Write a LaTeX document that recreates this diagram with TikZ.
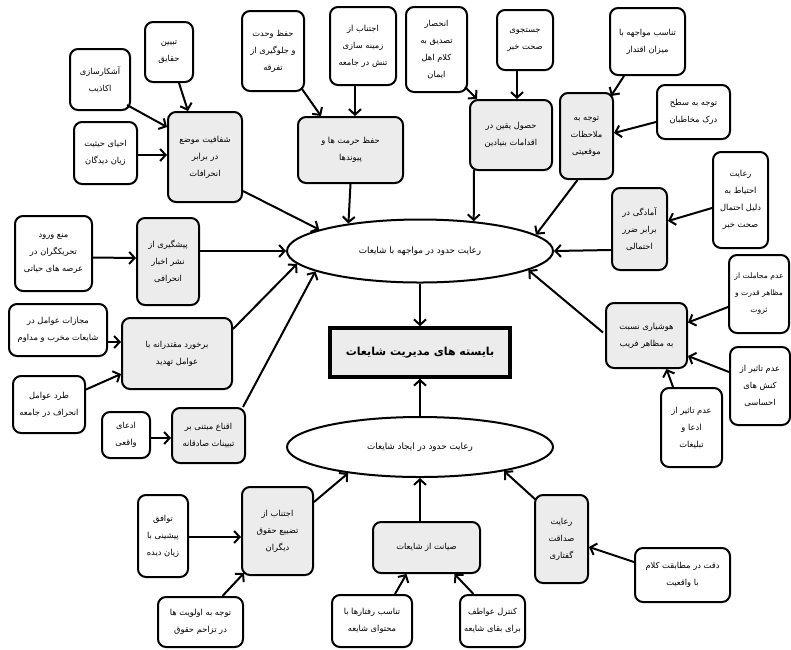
\documentclass[tikz,border=0pt]{standalone}
\usepackage{fontspec}
\newfontfamily\arabicfont[Script=Arabic]{DejaVu Sans}
\TeXXeTstate=1
\usetikzlibrary{shapes.geometric,arrows.meta,calc}
\newcommand\rl[1]{\beginR#1\endR}
\newcommand\bx[7]{\node[#6, minimum width={#4-#2}, minimum height={#5-#3}] (#1) at ({(#2+#4)/2},{(#3+#5)/2}) {#7};}
\definecolor{boxgray}{RGB}{236,236,236}
\tikzset{
  base/.style={draw=black, line width=2pt, rounded corners=8pt, align=center, inner sep=2pt,
    font=\arabicfont\fontsize{8.3}{17}\selectfont, text=black},
  leaf/.style={base, fill=white},
  mid/.style={base, fill=boxgray},
  narrow/.style={font=\arabicfont\fontsize{7.6}{17}\selectfont},
  oval/.style={ellipse, draw=black, line width=2pt, fill=white, inner sep=0pt,
    font=\arabicfont\fontsize{8.8}{14}\selectfont},
  core/.style={draw=black, line width=3.5pt, fill=boxgray, inner sep=2pt,
    font=\arabicfont\bfseries\fontsize{11}{14}\selectfont},
  arr/.style={line width=2pt, -{Straight Barb[length=5.5pt,width=12pt,line width=2pt]}}
}
\begin{document}
\begin{tikzpicture}[x=1pt,y=-1pt]
\useasboundingbox[fill=white] (0,0) rectangle (791,649);
% ---- top left
\bx{n1}{145}{22}{193}{82}{leaf}{\rl{تبیین}\\\rl{حقایق}}
\bx{n2}{70}{49}{130}{110}{leaf}{\rl{آشکارسازی}\\\rl{اکاذیب}}
\bx{n3}{74}{122}{137}{184}{leaf}{\rl{احیای حیثیت}\\\rl{زیان دیدگان}}
\bx{n4}{168}{112}{242}{202}{mid}{\rl{شفافیت موضع}\\\rl{در برابر}\\\rl{انحرافات}}
% ---- top middle
\bx{n5}{242}{11}{304}{91}{leaf}{\rl{حفظ وحدت}\\\rl{و جلوگیری از}\\\rl{تفرقه}}
\bx{n6}{330}{7}{396}{85}{leaf}{\rl{اجتناب از}\\\rl{زمینه سازی}\\\rl{تنش در جامعه}}
\bx{n7}{298}{117}{403}{183}{mid}{\rl{حفظ حرمت ها و}\\\rl{پیوندها}}
\bx{n8}{406}{7}{467}{92}{leaf}{\rl{انحصار}\\\rl{تصدیق به}\\\rl{کلام اهل}\\\rl{ایمان}}
\bx{n9}{497}{10}{553}{70}{leaf}{\rl{جستجوی}\\\rl{صحت خبر}}
\bx{n10}{470}{100}{552}{170}{mid}{\rl{حصول یقین در}\\\rl{اقدامات بنیادین}}
% ---- top right
\bx{n11}{610}{8}{685}{75}{leaf}{\rl{تناسب مواجهه با}\\\rl{میزان اقتدار}}
\bx{n12}{560}{93}{613}{179}{mid}{\rl{توجه به}\\\rl{ملاحظات}\\\rl{موقعیتی}}
\bx{n13}{657}{85}{730}{139}{leaf}{\rl{توجه به سطح}\\\rl{درک مخاطبان}}
\bx{n14}{713}{152}{768}{248}{leaf}{\rl{رعایت}\\\rl{احتیاط به}\\\rl{دلیل احتمال}\\\rl{صحت خبر}}
\bx{n15}{612}{188}{667}{270}{mid}{\rl{آمادگی در}\\\rl{برابر ضرر}\\\rl{احتمالی}}
% ---- left
\bx{n16}{15}{216}{92}{291}{leaf}{\rl{منع ورود}\\\rl{تحریکگران در}\\\rl{عرصه های حیاتی}}
\bx{n17}{137}{218}{199}{305}{mid}{\rl{پیشگیری از}\\\rl{نشر اخبار}\\\rl{انحرافی}}
\bx{n18}{9}{304}{107}{356}{leaf}{\rl{مجازات عوامل در}\\\rl{شایعات مخرب و مداوم}}
\bx{n19}{122}{318}{232}{389}{mid}{\rl{برخورد مقتدرانه با}\\\rl{عوامل تهدید}}
\bx{n20}{13}{376}{85}{433}{leaf}{\rl{طرد عوامل}\\\rl{انحراف در جامعه}}
\bx{n21}{102}{412}{150}{458}{leaf}{\rl{ادعای}\\\rl{واقعی}}
\bx{n22}{172}{408}{245}{463}{mid}{\rl{اقناع مبتنی بر}\\\rl{تبیینات صادقانه}}
% ---- centre
\node[oval, minimum width=266, minimum height=63] (e1) at (420,251) {\rl{رعایت حدود در مواجهه با شایعات}};
\bx{n24}{330}{328}{510}{377}{core}{\rl{بایسته های مدیریت شایعات}}
\node[oval, minimum width=266, minimum height=60] (e2) at (420,447) {\rl{رعایت حدود در ایجاد شایعات}};
% ---- right
\bx{n26}{729}{255}{789}{333}{leaf,narrow}{\rl{عدم مجاملت از}\\\rl{مظاهر قدرت و}\\\rl{ثروت}}
\bx{n27}{606}{303}{687}{368}{mid}{\rl{هوشیاری نسبت}\\\rl{به مظاهر فریب}}
\bx{n28}{730}{347}{790}{425}{leaf}{\rl{عدم تاثیر از}\\\rl{کنش های}\\\rl{احساسی}}
\bx{n29}{661}{388}{722}{467}{leaf}{\rl{عدم تاثیر از}\\\rl{ادعا و}\\\rl{تبلیغات}}
% ---- bottom
\bx{n30}{138}{495}{188}{577}{leaf}{\rl{توافق}\\\rl{پیشینی با}\\\rl{زیان دیده}}
\bx{n31}{242}{487}{313}{575}{mid}{\rl{اجتناب از}\\\rl{تضییع حقوق}\\\rl{دیگران}}
\bx{n32}{158}{597}{243}{647}{leaf}{\rl{توجه به اولویت ها}\\\rl{در تزاحم حقوق}}
\bx{n33}{373}{522}{480}{573}{mid}{\rl{صیانت از شایعات}}
\bx{n34}{332}{595}{412}{647}{leaf}{\rl{تناسب رفتارها با}\\\rl{محتوای شایعه}}
\bx{n35}{460}{595}{525}{647}{leaf}{\rl{کنترل عواطف}\\\rl{برای بقای شایعه}}
\bx{n36}{535}{495}{588}{583}{mid}{\rl{رعایت}\\\rl{صداقت}\\\rl{گفتاری}}
\bx{n37}{635}{548}{730}{602}{leaf}{\rl{دقت در مطابقت کلام}\\\rl{با واقعیت}}
% ---- connectors
\draw[arr] ($(n1.south)+(10,0)$) -- ($(n4.north)+(-17,0)$);
\draw[arr] ($(n2.south east)+(-4,-6)$) -- ($(n4.north west)+(0,16)$);
\draw[arr] ($(n3.east)+(0,2)$) -- ($(n4.west)+(0,-2)$);
\draw[arr] ($(n4.south east)+(0,-12)$) -- (e1.168);
\draw[arr] ($(n5.south east)+(-3,-3)$) -- ($(n7.north west)+(24,0)$);
\draw[arr] ($(n6.south)+(-8,0)$) -- ($(n7.north)+(4.5,0)$);
\draw[arr] (n7.south) -- (e1.159);
\draw[arr] ($(n8.south east)+(-3,-6)$) -- ($(n10.north west)+(8,0)$);
\draw[arr] ($(n9.south)+(-8,0)$) -- ($(n10.north)+(6,0)$);
\draw[arr] ($(n10.south west)+(5,-1)$) -- (e1.29);
\draw[arr] ($(n12.south)+(-9,0)$) -- (e1.8);
\draw[arr] ($(n11.south west)+(15,0)$) -- ($(n12.north east)+(-3,4)$);
\draw[arr] ($(n13.west)+(0,10)$) -- ($(n12.east)+(0,-3)$);
\draw[arr] ($(n14.west)+(0,8)$) -- ($(n15.east)+(0,-8)$);
\draw[arr] ($(n15.west)+(0,21)$) -- (e1.east);
\draw[arr] ($(n16.east)+(0,4)$) -- ($(n17.west)+(0,-3.5)$);
\draw[arr] (n17.east |- e1.west) -- (e1.west);
\draw[arr] ($(n18.east)+(0,12)$) -- ($(n19.west)+(0,-11.5)$);
\draw[arr] ($(n20.east)+(0,-15)$) -- ($(n19.south west)+(0,-16)$);
\draw[arr] ($(n19.north east)+(0,12)$) -- (e1.186);
\draw[arr] ($(n21.east)+(0,3)$) -- ($(n22.west)+(0,2.5)$);
\draw[arr] ($(n22.north east)+(-3,0)$) -- (e1.191);
\draw[arr] ($(n27.west)+(-2,-3)$) -- (e1.350);
\draw[arr] ($(n26.west)+(0,13)$) -- ($(n27.east)+(0,-13)$);
\draw[arr] ($(n28.west)+(0,-14)$) -- ($(n27.south east)+(0,-13)$);
\draw[arr] ($(n29.north west)+(13,0)$) -- ($(n27.south)+(20,0)$);
\draw[arr] (e1.south) -- (n24.north);
\draw[arr] (e2.north) -- (n24.south);
\draw[arr] ($(n30.east)+(0,1)$) -- ($(n31.west)+(0,6)$);
\draw[arr] ($(n32.north)+(22,0)$) -- ($(n31.south west)+(3,-3)$);
\draw[arr] ($(n31.north east)+(0,16)$) -- (e2.200);
\draw[arr] ($(n33.north)+(-6.5,0)$) -- (e2.south);
\draw[arr] ($(n34.north)+(23,0)$) -- ($(n33.south)+(-20,0)$);
\draw[arr] ($(n35.north)+(-19,0)$) -- ($(n33.south)+(28,0)$);
\draw[arr] ($(n36.north west)+(2,6)$) -- (e2.344);
\draw[arr] ($(n37.west)+(0,-13)$) -- ($(n36.east)+(0,8)$);
\end{tikzpicture}
\end{document}
